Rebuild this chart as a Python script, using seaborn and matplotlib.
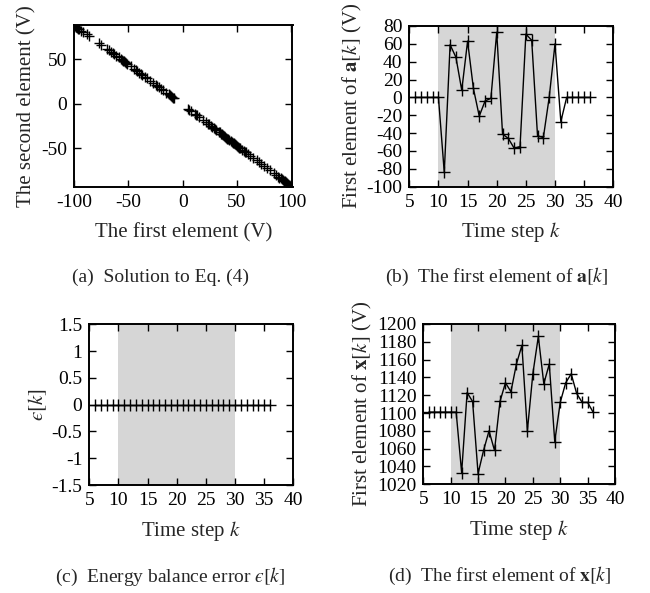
import matplotlib
matplotlib.use("Agg")
import matplotlib.pyplot as plt
import seaborn as sns
from matplotlib.ticker import FuncFormatter


# (a) points of the solution set
sol_first = [-100, -99.3, -98.6, -97.8, -97, -96, -95, -93.5, -92, -88, -86.5, -77, -75, -70, -68,
             -66, -64, -63, -61, -59, -57, -56, -55, -54, -53, -52, -51, -48, -45, -43, -42, -40,
             -38, -37, -35, -33, -30, -27, -25, -24, -22, -20, -18, -15, -13, -12, -11, -10, -9, -8,
             5, 6, 8, 11, 12, 13, 15, 19, 21, 23, 24, 26, 27, 29, 30, 31, 33, 34, 35, 36, 37, 38,
             39, 40, 41, 42, 43, 44, 45, 46, 47, 48, 49, 50, 51, 52, 53, 55, 56, 57, 58, 60, 62,
             65, 68, 70, 72, 75, 78, 80, 84, 86, 88, 89, 90, 91, 92, 93, 94, 95, 96, 97, 98, 99, 100.5]
sol_second = [88.2, 87, 86.5, 85.8, 85.2, 84, 83.5, 82, 81, 78.5, 76.5, 68.5, 66.5, 62, 60.5,
              58.5, 57, 56, 54, 52.5, 50.5, 49.5, 48.5, 48, 46.5, 46, 45, 42, 39.5, 38, 37, 35,
              33, 32.5, 30.5, 28.5, 26, 23, 21, 20.5, 18.5, 16.5, 15, 12, 10.5, 9.5, 8.5, 7.5, 7, 6,
              -5.5, -6.5, -8.5, -11, -12.5, -13, -15, -18.5, -20.5, -22.5, -23, -25, -26, -27.5,
              -28.5, -29.5, -31.5, -32, -33.5, -34, -35.5, -36, -37, -38, -39, -40, -41, -41.5,
              -42.5, -43.5, -44.5, -45, -46, -47, -48, -49, -50, -51.5, -52.5, -53.5, -54.5, -56,
              -58, -61, -63.5, -65, -67, -70, -72.5, -74.5, -78, -80, -82, -83, -83.5, -84.5,
              -85.5, -86.5, -87, -88, -89, -90, -91, -92, -93.2]

# time steps shared by (b), (c), (d)
steps = [6, 7, 8, 9, 10, 11, 12, 13, 14, 15, 16, 17, 18, 19, 20, 21, 22, 23, 24, 25, 26,
         27, 28, 29, 30, 31, 32, 33, 34, 35, 36]

# (b) first element of a[k]
first_a = [0, 0, 0, 0, 0, -84, 59, 45, 8, 63, 10, -21, -4, -1, 73, -41, -46, -57, -55, 71,
           64, -43, -45, 0, 60, -27, 0, 0, 0, 0, 0]

# (c) energy balance error
eps_err = [0, 0, 0, 0, 0, 0, 0, 0, 0, 0, 0, 0, 0, 0, 0, 0, 0, 0, 0, 0, 0, 0, 0, 0, 0, 0,
           0, 0, 0, 0, 0]

# (d) first element of x[k]
first_x = [1101, 1101, 1101, 1101, 1101, 1101, 1033, 1123, 1113, 1032, 1058, 1080, 1058, 1113,
           1134, 1124, 1155, 1176, 1080, 1144, 1186, 1133, 1155, 1068, 1112, 1134, 1144, 1122,
           1112, 1112, 1101]

shade_start, shade_end = 10, 30
W, H = 650, 593


def style_axes(ax):
    ax.tick_params(direction="in", top=True, right=True, length=5, width=1,
                   labelsize=14, pad=5, colors="black")
    for s in ax.spines.values():
        s.set_linewidth(1.4)
        s.set_color("black")
    ax.set_facecolor("white")


def plain(v, pos):
    return f"{v:g}"


def box(l, t, r, b):
    return [l / W, 1 - b / H, (r - l) / W, (b - t) / H]


def main():
    sns.set_theme(style="ticks")
    plt.rcParams["font.family"] = ["Liberation Serif", "DejaVu Serif"]
    plt.rcParams["mathtext.fontset"] = "stix"
    plt.rcParams["axes.unicode_minus"] = False

    fig = plt.figure(figsize=(6.5, 5.93), dpi=100)
    ax_a = fig.add_axes(box(74, 25, 292.5, 187))
    ax_b = fig.add_axes(box(409.3, 26, 613.3, 186.7))
    ax_c = fig.add_axes(box(89.3, 324.3, 293.3, 485))
    ax_d = fig.add_axes(box(423.3, 324, 615, 484.3))

    # (a)
    sns.scatterplot(x=sol_first, y=sol_second, marker="+", color="black", s=60,
                    linewidth=1, ax=ax_a, zorder=3)
    ax_a.set_xlim(-100, 101)
    ax_a.set_ylim(-93.3, 88.4)
    ax_a.set_xticks([-100, -50, 0, 50, 100])
    ax_a.set_yticks([-50, 0, 50])
    ax_a.set_xlabel("The first element (V)", fontsize=15, labelpad=9)
    ax_a.set_ylabel("The second element (V)", fontsize=15, labelpad=3)

    # (b), (c), (d)
    panels = [
        (ax_b, first_a, (-100, 80), list(range(-100, 81, 20)), r"First element of $\mathbf{a}[k]$ (V)"),
        (ax_c, eps_err, (-1.5, 1.5), [-1.5, -1, -0.5, 0, 0.5, 1, 1.5], "$\u03f5[k]$"),
        (ax_d, first_x, (1020, 1200), list(range(1020, 1201, 20)), r"First element of $\mathbf{x}[k]$ (V)"),
    ]
    for ax, vals, ylim, yticks, ylab in panels:
        ax.axvspan(shade_start, shade_end, color="#d6d6d6", lw=0, zorder=0)
        sns.lineplot(x=steps, y=vals, color="black", lw=1, marker="+", markersize=9,
                     markeredgewidth=1, markeredgecolor="black", ax=ax, zorder=3)
        ax.set_xlim(5, 40)
        ax.set_ylim(*ylim)
        ax.set_xticks(range(5, 41, 5))
        ax.set_yticks(yticks)
        ax.yaxis.set_major_formatter(FuncFormatter(plain))
        ax.set_xlabel("Time step $k$", fontsize=15, labelpad=7)
        ax.set_ylabel(ylab, fontsize=15, labelpad=2)

    for ax in (ax_a, ax_b, ax_c, ax_d):
        style_axes(ax)

    fig.text(160 / W, 1 - 277 / H, "(a)  Solution to Eq. (4)", ha="center", va="center", fontsize=14)
    fig.text(497 / W, 1 - 277 / H, r"(b)  The first element of $\mathbf{a}[k]$", ha="center", va="center", fontsize=14)
    fig.text(170 / W, 1 - 577 / H, "(c)  Energy balance error $\u03f5[k]$", ha="center", va="center", fontsize=14)
    fig.text(500 / W, 1 - 576 / H, r"(d)  The first element of $\mathbf{x}[k]$", ha="center", va="center", fontsize=14)

    fig.savefig("out.png", dpi=100, facecolor="white")


if __name__ == "__main__":
    main()
